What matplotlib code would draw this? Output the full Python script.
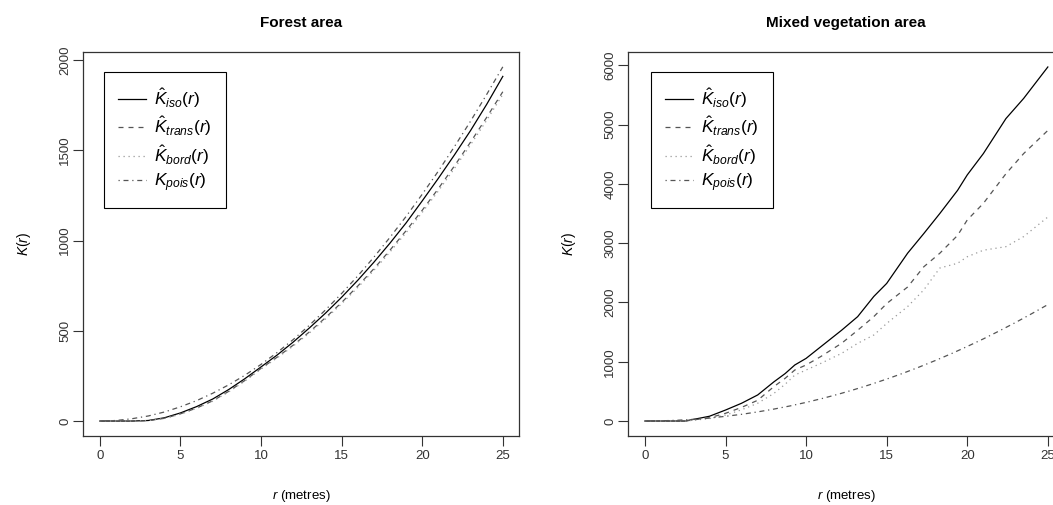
import numpy as np
import matplotlib
matplotlib.use('Agg')
import matplotlib.pyplot as plt

plt.rcParams['font.family'] = ['Liberation Sans', 'DejaVu Sans']
plt.rcParams['mathtext.fontset'] = 'custom'
plt.rcParams['mathtext.rm'] = 'Liberation Sans'
plt.rcParams['mathtext.it'] = 'Liberation Sans:italic'

# ---- Forest area ----
r_forest = list(range(0, 26))
forest_iso = [0, 0, 0, 3, 18, 45, 80, 122, 175, 235, 300, 366, 438, 516, 598,
              686, 780, 880, 986, 1098, 1220, 1345, 1475, 1610, 1755, 1910]
forest_trans = [0, 0, 0, 2, 15, 40, 72, 112, 165, 225, 292, 354, 421, 494, 573,
                657, 748, 844, 947, 1055, 1168, 1288, 1414, 1546, 1683, 1825]
forest_bord = [0, 0, 0, 2, 14, 38, 70, 110, 162, 222, 288, 350, 416, 488, 566,
               650, 740, 835, 937, 1044, 1156, 1275, 1400, 1531, 1667, 1810]
forest_pois = [0, 3, 13, 28, 50, 79, 113, 154, 201, 254, 314, 380, 452, 531, 616,
               707, 804, 908, 1018, 1134, 1257, 1385, 1521, 1662, 1810, 1963]

# ---- Mixed vegetation area ----
r_mixed = [0, 2.5, 4, 5, 6, 7, 8, 8.7, 9.3, 10, 10.9, 12.2, 13.2, 14.2, 15,
           16.3, 17.3, 18.3, 19.4, 20, 21, 22.4, 23.5, 25]
mixed_iso = [0, 0, 80, 185, 300, 440, 660, 800, 945, 1056, 1250, 1530, 1760, 2100, 2320,
             2830, 3160, 3500, 3890, 4150, 4510, 5100, 5440, 5970]
mixed_trans = [0, 0, 55, 130, 230, 350, 580, 720, 860, 945, 1085, 1310, 1530, 1760, 1980,
               2260, 2600, 2830, 3130, 3390, 3670, 4170, 4510, 4900]
mixed_bord = [0, 0, 40, 100, 190, 300, 465, 620, 775, 860, 970, 1140, 1310, 1450, 1645,
              1930, 2210, 2580, 2660, 2770, 2880, 2940, 3110, 3440]
r_mixed_pois = list(range(0, 26))
mixed_pois = forest_pois

labels = [r'$\hat{K}_{iso}(r)$', r'$\hat{K}_{trans}(r)$',
          r'$\hat{K}_{bord}(r)$', r'$K_{pois}(r)$']

fig = plt.figure(figsize=(10.53, 5.05), dpi=100)
ax1 = fig.add_axes([0.0788, 0.1366, 0.414, 0.760])
ax2 = fig.add_axes([0.5964, 0.1366, 0.414, 0.760])


def draw(ax, r, iso, trans, bord, rp, pois, title, yticks, ylim, lx):
    ax.plot(r, iso, color='black', lw=0.9, ls='-', label=labels[0])
    ax.plot(r, trans, color='#555555', lw=0.9, ls=(0, (4, 4)), label=labels[1])
    ax.plot(r, bord, color='#999999', lw=0.9, ls=(0, (1, 3)), label=labels[2])
    ax.plot(rp, pois, color='#555555', lw=0.9, ls=(0, (1, 3, 4, 3)), label=labels[3])
    ax.set_xlim(-1.05, 26.0)
    ax.set_ylim(*ylim)
    ax.set_xticks([0, 5, 10, 15, 20, 25])
    ax.set_yticks(yticks)
    for lbl in ax.get_yticklabels():
        lbl.set_rotation(90)
        lbl.set_va('center')
    ax.tick_params(direction='out', length=7, width=0.8, colors='#333333',
                   labelsize=9.5, pad=3)
    ax.tick_params(axis='y', pad=1.5)
    for s in ax.spines.values():
        s.set_color('#333333')
        s.set_linewidth(0.9)
    ax.set_title(title, fontsize=11, fontweight='bold', pad=18)
    ax.set_xlabel(r'$r$ (metres)', fontsize=9.5, labelpad=19)
    ax.set_ylabel(r'$K(r)$', fontsize=10, labelpad=19)
    leg = ax.legend(loc='upper left', bbox_to_anchor=(lx, 0.948), borderaxespad=0,
                    fancybox=False, edgecolor='black', fontsize=12.5,
                    handlelength=1.6, handletextpad=0.5, labelspacing=0.28,
                    borderpad=0.8, framealpha=1)
    leg.get_frame().set_linewidth(0.8)


draw(ax1, r_forest, forest_iso, forest_trans, forest_bord, r_forest, forest_pois,
     'Forest area', [0, 500, 1000, 1500, 2000], (-83, 2044), 0.048)
draw(ax2, r_mixed, mixed_iso, mixed_trans, mixed_bord, r_mixed_pois, mixed_pois,
     'Mixed vegetation area', [0, 1000, 2000, 3000, 4000, 5000, 6000], (-253, 6219), 0.053)

fig.savefig('out.png', dpi=100)
